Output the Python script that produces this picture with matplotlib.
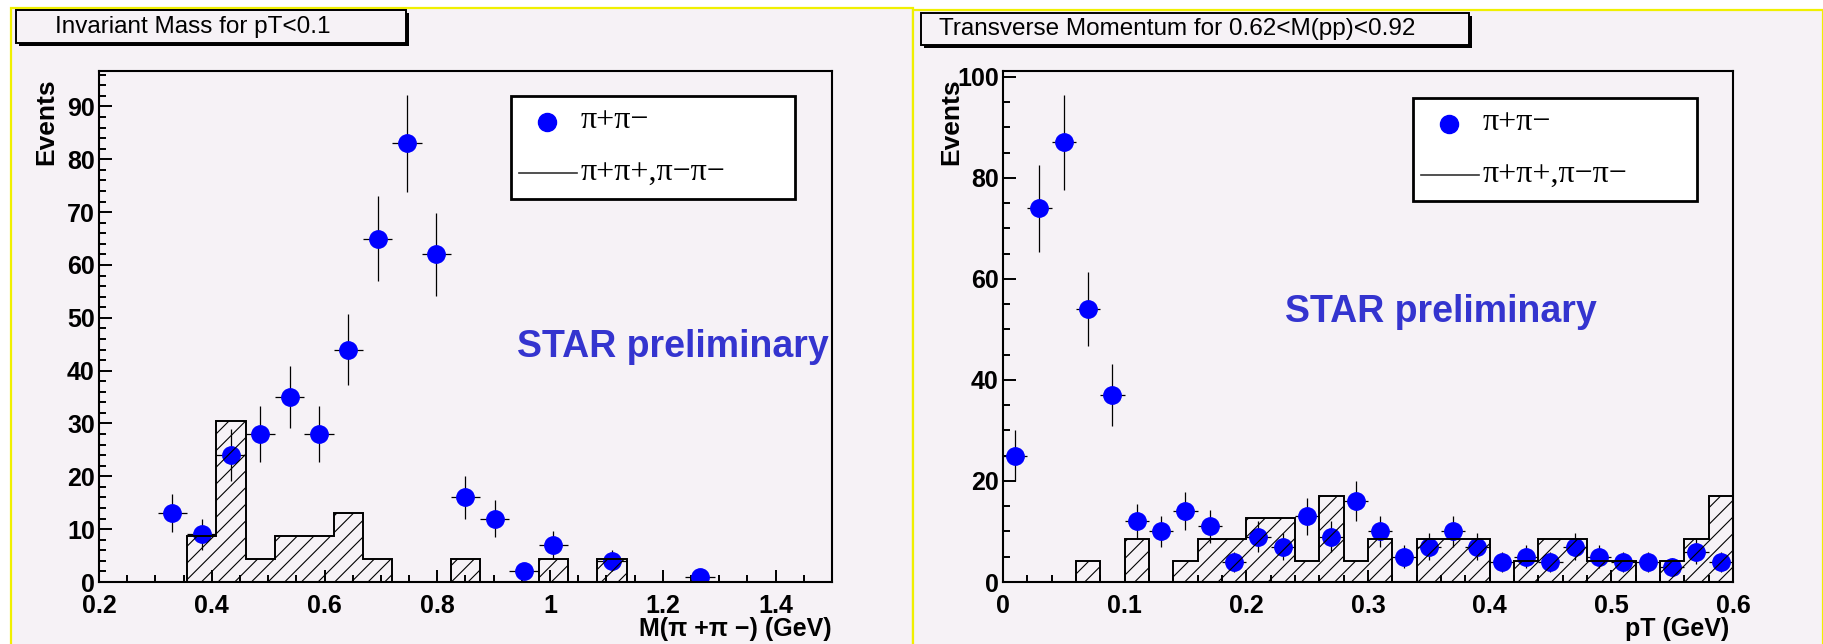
import numpy as np
import matplotlib.pyplot as plt
from matplotlib.patches import Rectangle
from matplotlib.lines import Line2D
from matplotlib.ticker import MultipleLocator, FuncFormatter

plt.rcParams['font.family'] = ['Liberation Sans', 'DejaVu Sans']
plt.rcParams['hatch.linewidth'] = 0.8

# --- invariant mass for pT < 0.1 ---
mass_edges = np.linspace(0.2, 1.5, 26)
mass_x = [0.330, 0.382, 0.434, 0.486, 0.538, 0.590, 0.642, 0.694, 0.746,
          0.798, 0.850, 0.902, 0.954, 1.006, 1.110, 1.266]
mass_counts = [13, 9, 24, 28, 35, 28, 44, 65, 83, 62, 16, 12, 2, 7, 4, 1]
mass_like = [0, 0, 0, 8.7, 30.5, 4.35, 8.7, 8.7, 13.05, 4.35, 0, 0, 4.35,
             0, 0, 4.35, 0, 4.35, 0, 0, 0, 0, 0, 0, 0]

# --- transverse momentum for 0.62 < M < 0.92 ---
pt_edges = np.linspace(0.0, 0.6, 31)
pt_x = [0.01, 0.03, 0.05, 0.07, 0.09, 0.11, 0.13, 0.15, 0.17, 0.19,
        0.21, 0.23, 0.25, 0.27, 0.29, 0.31, 0.33, 0.35, 0.37, 0.39,
        0.41, 0.43, 0.45, 0.47, 0.49, 0.51, 0.53, 0.55, 0.57, 0.59]
pt_counts = [25, 74, 87, 54, 37, 12, 10, 14, 11, 4, 9, 7, 13, 9, 16, 10,
             5, 7, 10, 7, 4, 5, 4, 7, 5, 4, 4, 3, 6, 4]
pt_like = [0, 0, 0, 4.25, 0, 8.5, 0, 4.25, 8.5, 8.5, 12.75, 12.75, 4.25, 17,
           4.25, 8.5, 0, 8.5, 8.5, 8.5, 0, 4.25, 8.5, 8.5, 4.25, 4.25, 0,
           4.25, 8.5, 17]

titles = ['Invariant Mass for pT<0.1', 'Transverse Momentum for 0.62<M(pp)<0.92']
xlabels = ['M(\u03c0 +\u03c0 \u2212) (GeV)', 'pT (GeV)']
legend_labels = ['\u03c0+\u03c0\u2212', '\u03c0+\u03c0+,\u03c0\u2212\u03c0\u2212']

pad_bg = '#f6f2f6'
star_blue = '#3434cf'
W, H = 1824, 644

fig = plt.figure(figsize=(W / 100, H / 100), dpi=100, facecolor='white')

# ROOT pads with the yellow highlight
fig.add_artist(Rectangle((11 / W, -0.1), (913 - 11) / W, 1.1 - 8 / H, transform=fig.transFigure,
                         facecolor=pad_bg, edgecolor='#f0f000', lw=1.6, zorder=0))
fig.add_artist(Rectangle((913 / W, -0.1), (1823 - 913) / W, 1.1 - 10 / H, transform=fig.transFigure,
                         facecolor=pad_bg, edgecolor='#f0f000', lw=1.6, zorder=0))


def title_box(x0, y0, x1, y1, text):
    # shadow then box, pixel coords from top-left
    fig.add_artist(Rectangle(((x0 + 3) / W, 1 - (y1 + 3) / H), (x1 - x0) / W, (y1 - y0) / H,
                             transform=fig.transFigure, facecolor='black', lw=0, zorder=1))
    fig.add_artist(Rectangle((x0 / W, 1 - y1 / H), (x1 - x0) / W, (y1 - y0) / H,
                             transform=fig.transFigure, facecolor=pad_bg, edgecolor='black',
                             lw=1.4, zorder=2))
    fig.text(((x0 + x1) / 2 - 18) / W, 1 - (y0 + y1) / 2 / H, text, ha='center', va='center',
             fontsize=17.5, zorder=3)


title_box(16, 10, 406, 43, titles[0])
title_box(921, 13, 1469, 45, titles[1])


def panel(rect, centers, counts, edges, like, xlim, xmaj, xmin, ymaj, ymin,
          xlabel, xlabel_x, star_xy, leg_rect):
    ax = fig.add_axes(rect)
    ax.set_facecolor(pad_bg)
    counts = np.array(counts, dtype=float)
    err = np.sqrt(counts)
    bw = edges[1] - edges[0]
    ax.errorbar(centers, counts, yerr=err, xerr=bw / 2, fmt='o', color='#0000ff',
                ms=12.5, mec='#0000ff', ecolor='black', elinewidth=0.9, capsize=0, zorder=2)
    ax.bar(edges[:-1], like, width=bw, align='edge', fill=False, hatch='//',
           edgecolor='black', lw=0, zorder=3)
    ax.stairs(like, edges, color='black', lw=1.4, zorder=3)

    ax.set_xlim(*xlim)
    ax.set_ylim(0, 1.05 * np.max(counts + err))
    ax.xaxis.set_major_locator(MultipleLocator(xmaj))
    ax.xaxis.set_minor_locator(MultipleLocator(xmin))
    ax.yaxis.set_major_locator(MultipleLocator(ymaj))
    ax.yaxis.set_minor_locator(MultipleLocator(ymin))
    fmt = FuncFormatter(lambda v, p: '%g' % round(v, 6))
    ax.xaxis.set_major_formatter(fmt)
    ax.yaxis.set_major_formatter(fmt)
    ax.tick_params(which='both', direction='in', top=False, right=False, width=1.4)
    ax.tick_params(which='major', length=9, labelsize=18)
    ax.tick_params(which='minor', length=5)
    ax.tick_params(axis='x', which='major', pad=8.5)
    ax.tick_params(axis='y', which='major', pad=3)
    for lab in ax.get_xticklabels() + ax.get_yticklabels():
        lab.set_fontweight('bold')
    for s in ax.spines.values():
        s.set_linewidth(1.5)

    ax.set_ylabel('Events', loc='top', fontsize=19, fontweight='bold')
    ax.yaxis.set_label_coords(-0.055, 0.985)
    ax.set_xlabel(xlabel, loc='right', fontsize=18, fontweight='bold')
    ax.xaxis.set_label_coords(xlabel_x, -0.068)

    ax.text(star_xy[0], star_xy[1], 'STAR preliminary', transform=ax.transAxes,
            ha='right', va='baseline', color=star_blue, fontsize=27, fontweight='bold')

    # legend box
    lx0, ly0, lx1, ly1 = leg_rect
    lw_, lh_ = lx1 - lx0, ly1 - ly0
    ax.add_patch(Rectangle((lx0, ly0), lw_, lh_, transform=ax.transAxes, facecolor='white',
                           edgecolor='black', lw=2, zorder=5))
    ax.add_line(Line2D([lx0 + 0.127 * lw_], [ly0 + 0.75 * lh_], transform=ax.transAxes,
                       marker='o', ms=13, color='#0000ff', ls='none', zorder=6))
    ax.add_line(Line2D([lx0 + 0.028 * lw_, lx0 + 0.232 * lw_], [ly0 + 0.25 * lh_] * 2,
                       transform=ax.transAxes, color='#333333', lw=1.2, zorder=6))
    for yy, lab in zip([0.76, 0.26], legend_labels):
        ax.text(lx0 + 0.244 * lw_, ly0 + yy * lh_, lab, transform=ax.transAxes,
                ha='left', va='center', fontsize=23, zorder=6,
                family=['Liberation Serif', 'DejaVu Serif'])
    return ax


bottom, height = 1 - 582 / H, (582 - 71) / H
panel([99 / W, bottom, 733 / W, height], mass_x, mass_counts, mass_edges, mass_like,
      (0.2, 1.5), 0.2, 0.05, 10, 2, xlabels[0], 1.0, (0.996, 0.44),
      (0.562, 0.750, 0.950, 0.951))
panel([1003 / W, bottom, 730 / W, height], pt_x, pt_counts, pt_edges, pt_like,
      (0.0, 0.6), 0.1, 0.02, 20, 5, xlabels[1], 0.995, (0.814, 0.509),
      (0.562, 0.746, 0.951, 0.947))

plt.savefig('out.png', dpi=100, facecolor='white')
